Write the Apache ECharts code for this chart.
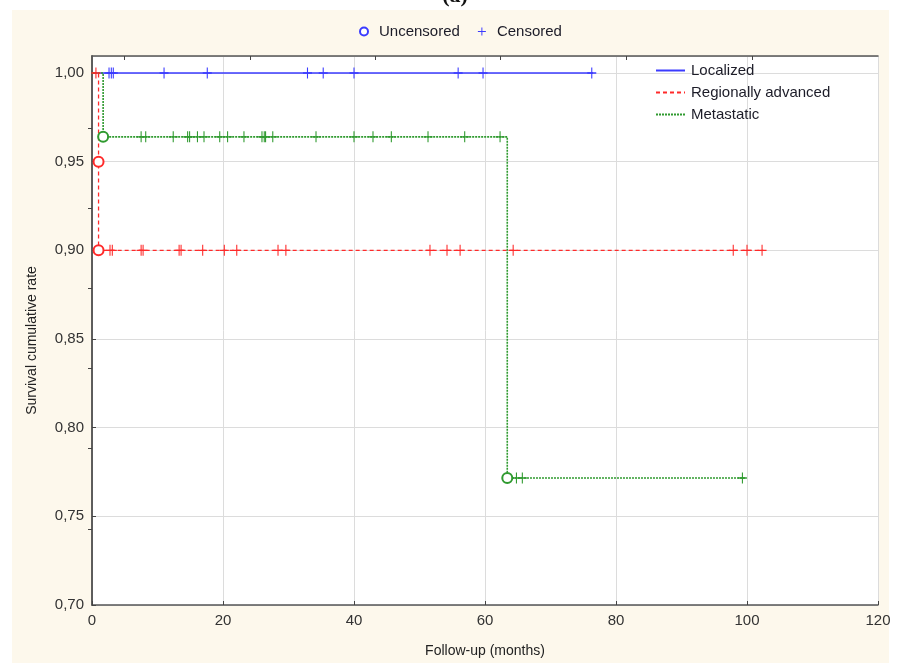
<!DOCTYPE html>
<html>
<head>
<meta charset="utf-8">
<script src="https://cdn.jsdelivr.net/npm/echarts@6/dist/echarts.min.js"></script>
<style>
  html, body { margin: 0; padding: 0; background: #fff; }
  #chart { width: 897px; height: 668px; }
</style>
</head>
<body>
<div id="chart"></div>
<script>
// Kaplan-Meier curves (time in months, survival rate)
var locTimes = [0, 76.5];
var locSurv  = [1.00, 1.00];
var regTimes = [0, 1.0, 1.0, 102.5];
var regSurv  = [1.00, 0.95, 0.90, 0.90];
var metTimes = [0, 1.7, 63.4, 99.7];
var metSurv  = [1.00, 0.964, 0.7716, 0.7716];

// censored observations (+)
var locCensored = [2.6, 2.95, 3.25, 11.0, 17.6, 32.9, 35.3, 40.0, 55.9, 59.7, 76.3];
var regCensoredTop = [0.6];
var regCensored = [2.75, 3.1, 7.5, 7.8, 13.3, 13.6, 16.9, 20.2, 22.1, 28.4, 29.6,
                   51.6, 54.2, 56.2, 64.3, 97.9, 100.0, 102.3];
var metCensored = [7.5, 8.2, 12.4, 14.6, 14.9, 16.1, 17.1, 19.5, 20.7, 23.2, 25.95,
                   26.3, 26.5, 27.6, 34.2, 40.0, 42.9, 45.7, 51.3, 56.9, 62.3];
var metCensoredLow = [64.8, 65.7, 99.3];

// uncensored events (o)
var regEventTimes = [1.0, 1.0];
var regEventSurv  = [0.95, 0.90];
var metEventTimes = [1.7, 63.4];
var metEventSurv  = [0.964, 0.7716];

// ticks
var yTicks = [0.70, 0.75, 0.80, 0.85, 0.90, 0.95, 1.00];
var xTicks = [0, 20, 40, 60, 80, 100, 120];
var topTicks = [4.93, 24.1, 43.25, 62.4, 81.6, 100.8];
var rightTicks = [0.9688, 0.9237, 0.8786, 0.8335, 0.7884, 0.7429];

var BLUE = '#3b3bff', RED = '#ff2a2a', GREEN = '#2f9a2f';
var PLUS = 'path://M4.4,0h1.2v4.4h4.4v1.2h-4.4v4.4h-1.2v-4.4h-4.4v-1.2h4.4z';

function zip(xs, ys) {
  return xs.map(function (x, i) { return [x, ys[i]]; });
}
function at(xs, y) {
  return xs.map(function (x) { return [x, y]; });
}

var myChart = echarts.init(document.getElementById('chart'));

function curve(name, times, surv, color, type, width) {
  return {
    name: name, type: 'line', step: 'end', symbol: 'none',
    data: zip(times, surv),
    lineStyle: { color: color, type: type, width: width },
    itemStyle: { color: color },
    z: 3
  };
}
function marks(name, data, color) {
  return {
    name: name, type: 'scatter', symbol: PLUS, symbolSize: [9, 11],
    data: data, itemStyle: { color: color, opacity: 1 }, z: 4
  };
}
function events(name, data, color) {
  return {
    name: name, type: 'scatter', symbol: 'emptyCircle', symbolSize: 10,
    data: data,
    itemStyle: { color: color, borderColor: color, borderWidth: 1.2, opacity: 1 },
    z: 4
  };
}

var axisCommon = {
  axisLine: { show: true, lineStyle: { color: '#555', width: 1.5 } },
  axisTick: { show: true, inside: true, length: 4, lineStyle: { color: '#444' } }
};

var option = {
  backgroundColor: '#fff',
  animation: false,
  textStyle: { fontFamily: 'Liberation Sans, Arial, sans-serif' },
  graphic: [
    { type: 'rect', silent: true, z: -10,
      shape: { x: 12, y: 10, width: 877, height: 653 },
      style: { fill: '#fdf8ec' } },
    { type: 'text', silent: true, x: 455, y: 7,
      style: { text: '(a)', fill: '#111', align: 'center', verticalAlign: 'bottom',
               font: 'bold 22px "Liberation Serif", serif' } }
  ],
  grid: { left: 92, right: 19, top: 56, bottom: 63, show: true,
          backgroundColor: '#fff', borderWidth: 0 },
  legend: [
    { data: ['Uncensored', 'Censored'], top: 24, left: 359, padding: 0,
      itemWidth: 8, itemHeight: 8, itemGap: 18, selectedMode: false,
      textStyle: { fontSize: 15, color: '#1c1c28', padding: [0, 0, 0, 6] } },
    { data: ['Localized', 'Regionally advanced', 'Metastatic'], orient: 'vertical',
      left: 655, top: 63, padding: 0, itemWidth: 29, itemHeight: 14, itemGap: 7,
      selectedMode: false, itemStyle: { opacity: 0 },
      textStyle: { fontSize: 15, color: '#1c1c28', padding: [0, 0, 0, 1] } }
  ],
  xAxis: [
    Object.assign({}, axisCommon, {
      type: 'value', min: xTicks[0], max: xTicks[xTicks.length - 1], interval: 20,
      name: 'Follow-up (months)', nameLocation: 'middle', nameGap: 39,
      nameTextStyle: { fontSize: 14, color: '#222' },
      axisLabel: { fontSize: 15, color: '#333', margin: 8 },
      splitLine: { show: true, lineStyle: { color: '#dcdcdc', width: 1 } }
    }),
    Object.assign({}, axisCommon, {
      type: 'value', position: 'top', min: 0, max: 120,
      axisLabel: { show: false },
      axisTick: { show: true, inside: true, length: 4, customValues: topTicks,
                  lineStyle: { color: '#444' } },
      splitLine: { show: false }
    })
  ],
  yAxis: [
    Object.assign({}, axisCommon, {
      type: 'value', min: yTicks[0], max: 1.0096, interval: 0.05,
      name: 'Survival cumulative rate', nameLocation: 'middle', nameGap: 53,
      nameTextStyle: { fontSize: 14, color: '#222', padding: [0, 20, 0, 0] },
      axisLabel: { fontSize: 15, color: '#333', margin: 8, showMaxLabel: false,
                   formatter: function (v) { return v.toFixed(2).replace('.', ','); } },
      splitLine: { show: true, lineStyle: { color: '#dcdcdc', width: 1 } }
    }),
    Object.assign({}, axisCommon, {
      type: 'value', position: 'right', min: yTicks[0], max: 1.0096,
      axisLabel: { show: false },
      axisTick: { show: true, inside: true, length: 4, customValues: rightTicks,
                  lineStyle: { color: '#444' } },
      splitLine: { show: false }
    })
  ],
  series: [
    curve('Localized', locTimes, locSurv, BLUE, 'solid', 1.5),
    curve('Regionally advanced', regTimes, regSurv, RED, [4, 3], 1.3),
    curve('Metastatic', metTimes, metSurv, GREEN, [2, 1], 1.6),
    marks('loc+', at(locCensored, 1.00), BLUE),
    marks('reg+', at(regCensoredTop, 1.00).concat(at(regCensored, 0.90)), RED),
    marks('met+', at(metCensored, 0.964).concat(at(metCensoredLow, 0.7716)), GREEN),
    events('reg-o', zip(regEventTimes, regEventSurv), RED),
    events('met-o', zip(metEventTimes, metEventSurv), GREEN),
    { name: 'Uncensored', type: 'scatter', symbol: 'emptyCircle', data: [],
      itemStyle: { color: BLUE, borderColor: BLUE, borderWidth: 1.2, opacity: 1 } },
    { name: 'Censored', type: 'scatter', symbol: PLUS, data: [],
      itemStyle: { color: BLUE, opacity: 1 } }
  ]
};

myChart.setOption(option);
window.addEventListener('resize', function () {
  myChart.resize();
});
</script>
</body>
</html>
